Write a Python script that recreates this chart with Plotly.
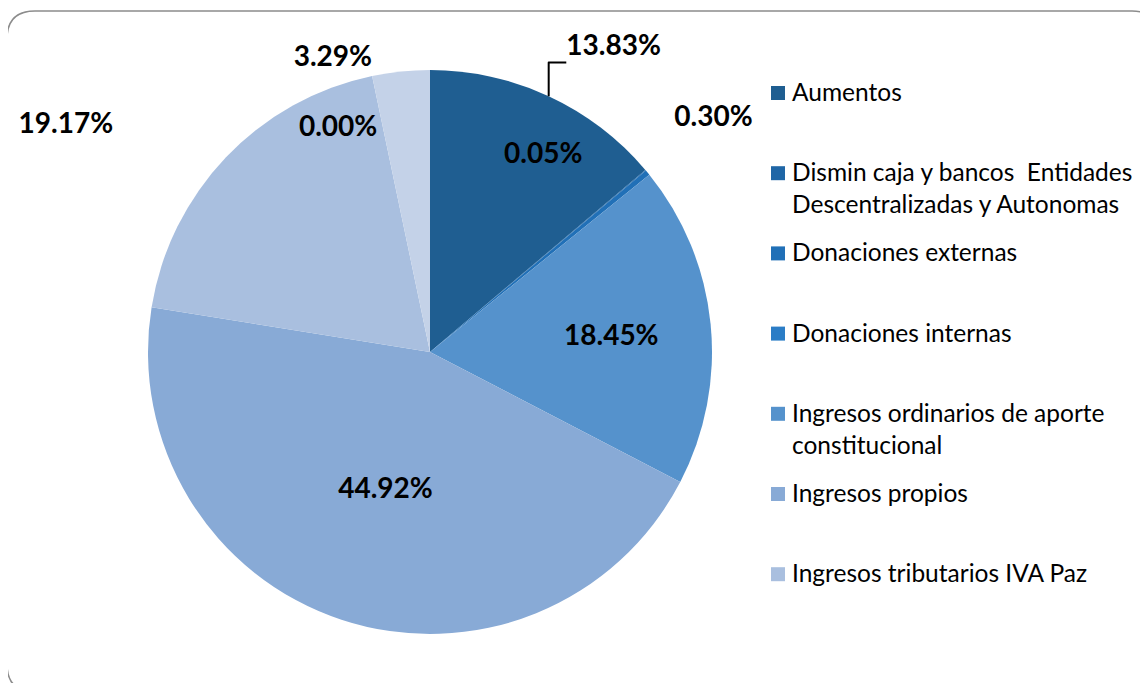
import textwrap
import plotly.graph_objects as go

# ---- data ----
categories = [
    "Aumentos",
    "Dismin caja y bancos  Entidades Descentralizadas y Autonomas",
    "Donaciones externas",
    "Donaciones internas",
    "Ingresos ordinarios de aporte constitucional",
    "Ingresos propios",
    "Ingresos tributarios IVA Paz",
    "Otros ingresos",
    "Otros recursos",
]
values = [13.83, 0.05, 0.30, None, 18.45, 44.92, 19.17, 0.00, 3.29]
colors = ["#1F5E91", "#1F66A6", "#2170B7", "#2B7DC6", "#5592CC",
          "#88AAD6", "#A9BFDF", "#B8CAE3", "#C4D2E8"]
label_pos = ["outside", "inside", "outside", "inside", "inside",
             "inside", "outside", "inside", "outside"]
legend_visible = 7  # entries that fit in the legend box

W, H = 1148, 683
OFF = 8  # page body margin of the html output
FONT = "Lato"


def px_x(p):
    return (p - OFF) / W


def px_y(p):
    return 1 - (p - OFF) / H


NB = "\u00a0"
PCT = "%{percent:.2%}"
# label nudges (extra blank lines / padding inside the label box)
templates = [
    PCT + "<br>" + NB,                      # 13.83
    PCT + NB * 30 + "<br>" + NB,            # 0.05
    PCT + ("<br>" + NB) * 2,                # 0.30
    PCT,
    PCT,
    PCT,
    PCT + NB * 14 + "<br>" + NB,            # 19.17
    (NB + "<br>") * 3 + PCT + NB * 27,      # 0.00
    PCT + NB * 3,                           # 3.29
]

fig = go.Figure()
fig.add_trace(go.Pie(
    labels=categories,
    values=values,
    sort=False,
    direction="clockwise",
    rotation=0,
    marker=dict(colors=colors, line=dict(width=0)),
    texttemplate=templates,
    textposition=label_pos,
    insidetextorientation="horizontal",
    textfont=dict(family=FONT, size=28, color="black", weight="bold"),
    outsidetextfont=dict(family=FONT, size=28, color="black", weight="bold"),
    insidetextfont=dict(family=FONT, size=28, color="black", weight="bold"),
    domain=dict(x=[px_x(148), px_x(712)], y=[px_y(634), px_y(70)]),
    showlegend=False,
    automargin=False,
    hoverinfo="label+percent",
))

# ---- custom legend (Excel-style, evenly spaced) ----
shapes = []
annotations = []
first_y, step = 93, 80.2
for i in range(legend_visible):
    cy = first_y + i * step
    shapes.append(dict(
        type="rect", xref="paper", yref="paper",
        x0=px_x(771), x1=px_x(785), y0=px_y(cy + 7), y1=px_y(cy - 7),
        fillcolor=colors[i], line=dict(width=0),
    ))
    txt = "<br>".join(textwrap.wrap(categories[i], width=31))
    annotations.append(dict(
        xref="paper", yref="paper", x=px_x(790), y=px_y(cy - 18),
        xanchor="left", yanchor="top", align="left", showarrow=False,
        text=txt, font=dict(family=FONT, size=24.5, color="black"),
    ))

# rounded chart border
x0, x1 = px_x(7), px_x(1160)
y1, y0 = px_y(11), px_y(692)
rx, ry = 28 / W, 28 / H
path = (f"M {x0+rx} {y1} L {x1-rx} {y1} Q {x1} {y1} {x1} {y1-ry} "
        f"L {x1} {y0+ry} Q {x1} {y0} {x1-rx} {y0} L {x0+rx} {y0} "
        f"Q {x0} {y0} {x0} {y0+ry} L {x0} {y1-ry} Q {x0} {y1} {x0+rx} {y1} Z")
shapes.append(dict(type="path", xref="paper", yref="paper", path=path,
                   line=dict(color="#8C8C8C", width=1.5), layer="below"))

fig.update_layout(
    width=W, height=H,
    margin=dict(l=0, r=0, t=0, b=0, autoexpand=False),
    paper_bgcolor="white",
    plot_bgcolor="white",
    shapes=shapes,
    annotations=annotations,
    uniformtext=dict(minsize=28, mode="show"),
    font=dict(family=FONT),
)

fig.write_html("out.html")
